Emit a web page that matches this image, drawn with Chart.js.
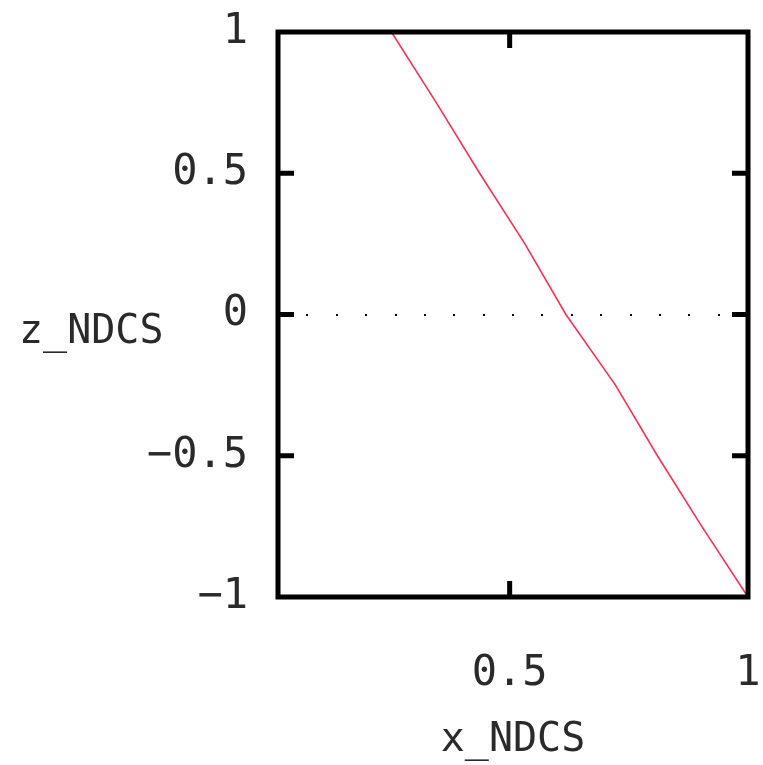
<!DOCTYPE html>
<html>
<head>
<meta charset="utf-8">
<title>z_NDCS vs x_NDCS</title>
<script src="https://cdn.jsdelivr.net/npm/chart.js@4/dist/chart.umd.min.js"></script>
<style>
  html, body { margin: 0; padding: 0; background: #ffffff; }
  #wrap { width: 763px; height: 765px; }
</style>
</head>
<body>
<div id="wrap"><canvas id="c" width="763" height="765"></canvas></div>
<script>
// Depth curve: normalized device x against normalized device z
const xNdcs = [0.252, 0.346, 0.437, 0.532, 0.618, 0.722, 0.810, 0.903, 1.0];
const zNdcs = [1.0, 0.75, 0.5, 0.25, 0.0, -0.25, -0.5, -0.75, -1.0];

// Axis ticks and labels
const xTicks = [0.5, 1];
const yTicks = [-1, -0.5, 0, 0.5, 1];
const xTitle = 'x_NDCS';
const yTitle = 'z_NDCS';

const tickFont = { family: '"DejaVu Sans Mono", monospace', size: 42 };
const titleFont = { family: '"DejaVu Sans Mono", monospace', size: 40 };
const textColor = '#2a2a2a';

function fmt(v) {
  return String(v).replace('-', '\u2212');
}

// Thick frame, inward tick marks, dotted zero axis and horizontal y title
const framePlugin = {
  id: 'frame',
  beforeDatasetsDraw(chart) {
    const { ctx, chartArea: a, scales } = chart;
    const y0 = scales.y.getPixelForValue(0);
    const n = 16;
    const step = (a.right - a.left) / n;
    ctx.save();
    ctx.fillStyle = '#000';
    for (let k = 1; k < n; k++) {
      ctx.fillRect(Math.round(a.left + k * step) - 1, Math.round(y0) - 1, 2, 2);
    }
    ctx.restore();
  },
  afterDatasetsDraw(chart) {
    const { ctx, chartArea: a, scales } = chart;
    const len = 16;
    ctx.save();
    ctx.strokeStyle = '#000';
    ctx.lineWidth = 5;
    ctx.lineJoin = 'miter';
    ctx.strokeRect(a.left, a.top, a.right - a.left, a.bottom - a.top);
    ctx.beginPath();
    yTicks.forEach(v => {
      if (v <= -1 || v >= 1) return;
      const p = scales.y.getPixelForValue(v);
      ctx.moveTo(a.left, p); ctx.lineTo(a.left + len, p);
      ctx.moveTo(a.right, p); ctx.lineTo(a.right - len, p);
    });
    xTicks.forEach(v => {
      const p = scales.x.getPixelForValue(v);
      if (Math.abs(p - a.right) < 2) return;
      ctx.moveTo(p, a.bottom); ctx.lineTo(p, a.bottom - len);
      ctx.moveTo(p, a.top); ctx.lineTo(p, a.top + len);
    });
    ctx.stroke();

    ctx.fillStyle = textColor;
    ctx.font = titleFont.size + 'px ' + titleFont.family;
    ctx.textAlign = 'left';
    ctx.textBaseline = 'alphabetic';
    ctx.fillText(yTitle, 19, 343);
    ctx.restore();
  }
};

new Chart(document.getElementById('c'), {
  type: 'line',
  data: {
    datasets: [{
      data: xNdcs.map((x, i) => ({ x: x, y: zNdcs[i] })),
      borderColor: '#ff3056',
      borderWidth: 1.6,
      pointRadius: 0,
      tension: 0,
      fill: false
    }]
  },
  options: {
    responsive: false,
    animation: false,
    devicePixelRatio: 1,
    layout: { padding: { left: 0, right: 15, top: 32, bottom: 0 } },
    plugins: { legend: { display: false }, tooltip: { enabled: false } },
    scales: {
      x: {
        type: 'linear',
        min: 0.014,
        max: 1,
        afterBuildTicks(s) { s.ticks = xTicks.map(v => ({ value: v })); },
        afterFit(s) { s.height = 168; s.paddingLeft = 0; s.paddingRight = 0; },
        grid: { display: false, drawTicks: false },
        border: { display: false },
        ticks: {
          font: tickFont,
          color: textColor,
          padding: 52,
          maxRotation: 0,
          autoSkip: false,
          callback: v => fmt(v)
        },
        title: { display: true, text: xTitle, font: titleFont, color: textColor, padding: 0 }
      },
      y: {
        type: 'linear',
        min: -1,
        max: 1,
        afterBuildTicks(s) { s.ticks = yTicks.map(v => ({ value: v })); },
        afterFit(s) { s.width = 278; s.paddingTop = 0; s.paddingBottom = 0; },
        grid: { display: false, drawTicks: false },
        border: { display: false },
        ticks: {
          font: tickFont,
          color: textColor,
          padding: 30,
          autoSkip: false,
          callback: v => fmt(v)
        }
      }
    }
  },
  plugins: [framePlugin]
});
</script>
</body>
</html>
